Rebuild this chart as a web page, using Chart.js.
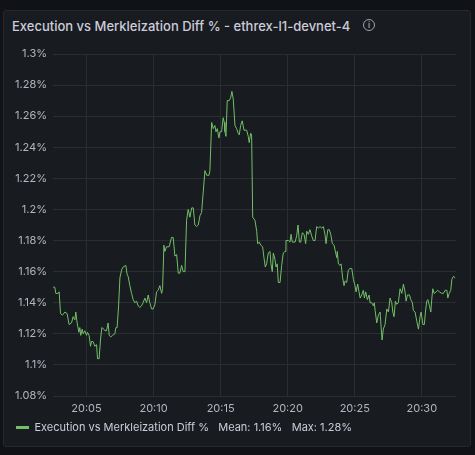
<!DOCTYPE html>
<html>
<head>
<meta charset="utf-8">
<script src="https://cdn.jsdelivr.net/npm/chart.js@4.4.1/dist/chart.umd.min.js"></script>
<style>
  html, body { margin: 0; padding: 0; background: #111217; width: 475px; height: 455px; overflow: hidden; font-family: Inter, sans-serif; }
  #panel { position: absolute; left: 3px; top: 10px; width: 466px; height: 435px; background: #181b1f; border: 1px solid #25282d; border-radius: 3px; }
  #title { position: absolute; left: 8px; top: 7px; font-size: 13px; font-weight: 500; color: #ccccdc; white-space: nowrap; }
  #info { position: absolute; left: 359px; top: 8px; width: 10px; height: 10px; border: 1.3px solid #9fa1a8; border-radius: 50%;
          color: #9fa1a8; font-size: 8px; font-weight: 600; line-height: 10px; text-align: center; }
  #wrap { position: absolute; left: 0; top: 26px; width: 466px; height: 409px; }
</style>
</head>
<body>
<div id="panel">
  <div id="title">Execution vs Merkleization Diff % - ethrex-l1-devnet-4</div>
  <div id="info">i</div>
  <div id="wrap"><canvas id="chart"></canvas></div>
</div>
<script>
// minutes after 20:00
const times = [
  2.51, 2.63, 2.71, 2.88, 2.96, 3.06, 3.21, 3.38, 3.55, 3.70, 3.88, 4.00, 4.13, 4.20, 4.30, 4.43, 4.50, 4.57, 4.67, 4.75,
  4.87, 5.00, 5.07, 5.19, 5.30, 5.37, 5.49, 5.62, 5.75, 5.82, 5.94, 6.04, 6.14, 6.29, 6.37, 6.49, 6.61, 6.69, 6.81, 6.94,
  7.11, 7.19, 7.28, 7.39, 7.49, 7.61, 7.73, 7.93, 8.03, 8.10, 8.23, 8.36, 8.48, 8.60, 8.73, 8.85, 8.98, 9.10, 9.22, 9.35,
  9.48, 9.60, 9.72, 9.85, 9.97, 10.10, 10.22, 10.34, 10.47, 10.60, 10.67, 10.77, 10.84, 10.97, 11.16, 11.34, 11.46, 11.59, 11.72, 11.84,
  11.96, 12.09, 12.21, 12.34, 12.46, 12.58, 12.71, 12.84, 12.96, 13.08, 13.21, 13.33, 13.46, 13.58, 13.83, 13.96, 14.13, 14.20, 14.33, 14.45,
  14.57, 14.65, 14.75, 14.87, 14.95, 15.07, 15.19, 15.27, 15.32, 15.40, 15.49, 15.64, 15.75, 15.84, 15.94, 16.07, 16.19, 16.31, 16.39, 16.49,
  16.61, 16.74, 16.94, 17.06, 17.13, 17.24, 17.31, 17.39, 17.56, 17.69, 17.76, 17.88, 17.99, 18.13, 18.23, 18.33, 18.43, 18.55, 18.68, 18.75,
  18.85, 18.93, 19.05, 19.13, 19.22, 19.30, 19.43, 19.55, 19.67, 19.80, 19.87, 20.05, 20.17, 20.25, 20.34, 20.55, 20.67, 20.77, 20.87, 20.97,
  21.09, 21.22, 21.34, 21.42, 21.54, 21.66, 21.79, 21.91, 22.04, 22.16, 22.28, 22.41, 22.54, 22.66, 22.78, 22.86, 22.99, 23.10, 23.21, 23.33,
  23.46, 23.53, 23.66, 23.70, 23.78, 23.90, 23.98, 24.10, 24.20, 24.28, 24.40, 24.52, 24.65, 24.78, 24.90, 25.02, 25.10, 25.22, 25.32, 25.40,
  25.52, 25.64, 25.72, 25.82, 25.94, 26.07, 26.14, 26.27, 26.39, 26.46, 26.52, 26.64, 26.76, 26.89, 26.96, 27.04, 27.13, 27.26, 27.39, 27.51,
  27.63, 27.76, 27.84, 27.93, 28.03, 28.13, 28.25, 28.38, 28.51, 28.63, 28.75, 28.83, 28.93, 29.08, 29.18, 29.30, 29.37, 29.50, 29.63, 29.75,
  29.87, 29.95, 30.08, 30.19, 30.27, 30.37, 30.45, 30.57, 30.67, 30.75, 30.82, 30.92, 31.07, 31.19, 31.31, 31.49, 31.61, 31.74, 31.87, 31.94,
  32.04, 32.16, 32.24, 32.36, 32.49
];

const diffPct = [
  1.150, 1.150, 1.146, 1.146, 1.147, 1.133, 1.132, 1.134, 1.133, 1.126, 1.127, 1.131, 1.129, 1.134, 1.127, 1.121, 1.124, 1.119, 1.123, 1.120,
  1.122, 1.119, 1.121, 1.119, 1.112, 1.115, 1.115, 1.112, 1.113, 1.104, 1.104, 1.116, 1.124, 1.123, 1.122, 1.122, 1.127, 1.119, 1.118, 1.119,
  1.120, 1.124, 1.124, 1.138, 1.156, 1.161, 1.163, 1.164, 1.158, 1.157, 1.151, 1.146, 1.142, 1.140, 1.141, 1.138, 1.137, 1.138, 1.140, 1.143,
  1.140, 1.145, 1.140, 1.136, 1.136, 1.139, 1.147, 1.148, 1.151, 1.146, 1.149, 1.177, 1.173, 1.176, 1.176, 1.182, 1.182, 1.170, 1.171, 1.159,
  1.159, 1.164, 1.160, 1.160, 1.193, 1.200, 1.195, 1.201, 1.201, 1.190, 1.189, 1.190, 1.196, 1.198, 1.225, 1.222, 1.222, 1.225, 1.256, 1.252,
  1.254, 1.250, 1.252, 1.246, 1.250, 1.250, 1.259, 1.256, 1.250, 1.247, 1.270, 1.270, 1.272, 1.276, 1.271, 1.254, 1.252, 1.249, 1.248, 1.254,
  1.257, 1.251, 1.251, 1.247, 1.243, 1.249, 1.248, 1.195, 1.193, 1.186, 1.178, 1.179, 1.177, 1.176, 1.169, 1.163, 1.165, 1.172, 1.173, 1.165,
  1.160, 1.172, 1.168, 1.163, 1.165, 1.153, 1.153, 1.164, 1.172, 1.173, 1.180, 1.180, 1.179, 1.184, 1.179, 1.179, 1.183, 1.190, 1.179, 1.179,
  1.185, 1.184, 1.178, 1.186, 1.184, 1.187, 1.183, 1.180, 1.180, 1.189, 1.188, 1.189, 1.188, 1.189, 1.184, 1.178, 1.187, 1.187, 1.184, 1.178,
  1.177, 1.174, 1.169, 1.173, 1.165, 1.164, 1.165, 1.156, 1.151, 1.154, 1.153, 1.161, 1.162, 1.162, 1.155, 1.151, 1.147, 1.152, 1.147, 1.143,
  1.145, 1.148, 1.143, 1.147, 1.142, 1.145, 1.140, 1.140, 1.138, 1.140, 1.135, 1.127, 1.132, 1.134, 1.125, 1.116, 1.123, 1.126, 1.136, 1.134,
  1.143, 1.140, 1.134, 1.131, 1.141, 1.139, 1.140, 1.149, 1.146, 1.152, 1.147, 1.141, 1.145, 1.145, 1.142, 1.140, 1.135, 1.134, 1.128, 1.123,
  1.131, 1.134, 1.126, 1.126, 1.134, 1.141, 1.142, 1.138, 1.134, 1.143, 1.149, 1.146, 1.147, 1.148, 1.147, 1.146, 1.146, 1.148, 1.148, 1.143,
  1.146, 1.148, 1.155, 1.157, 1.156
];

const xTicks = [5, 10, 15, 20, 25, 30];
const yTicks = [1.08, 1.1, 1.12, 1.14, 1.16, 1.18, 1.2, 1.22, 1.24, 1.26, 1.28, 1.3];
const seriesName = 'Execution vs Merkleization Diff %';

const mean = diffPct.reduce((a, b) => a + b, 0) / diffPct.length;
const max = Math.max(...diffPct);
const fmtPct = v => parseFloat(v.toFixed(2)) + '%';

const tickColor = '#b4b6bd';
const gridColor = '#2a2d32';
const lineColor = '#73bf69';

new Chart(document.getElementById('chart'), {
  type: 'line',
  data: {
    datasets: [{
      label: seriesName,
      data: times.map((t, i) => ({ x: t, y: diffPct[i] })),
      borderColor: lineColor,
      backgroundColor: lineColor,
      borderWidth: 1,
      pointRadius: 0,
      tension: 0
    }]
  },
  options: {
    responsive: true,
    maintainAspectRatio: false,
    animation: false,
    layout: { padding: { left: 2, right: 14, top: 17, bottom: 3 } },
    scales: {
      x: {
        type: 'linear',
        min: 2.5,
        max: 32.55,
        afterBuildTicks: s => { s.ticks = xTicks.map(v => ({ value: v })); },
        afterFit: s => { s.height = 16; },
        grid: { color: gridColor, drawTicks: false },
        border: { display: false },
        ticks: {
          color: tickColor,
          padding: 6,
          maxRotation: 0,
          font: { family: 'Inter', size: 11 },
          callback: v => '20:' + String(v).padStart(2, '0')
        }
      },
      y: {
        min: 1.08,
        max: 1.3,
        afterBuildTicks: s => { s.ticks = yTicks.map(v => ({ value: v })); },
        afterFit: s => { s.width = 47; },
        grid: { color: gridColor, drawTicks: false },
        border: { display: false },
        ticks: {
          color: tickColor,
          padding: 6,
          font: { family: 'Inter', size: 11 },
          callback: v => fmtPct(v)
        }
      }
    },
    plugins: {
      tooltip: { enabled: false },
      legend: {
        position: 'bottom',
        align: 'start',
        labels: {
          color: '#ccccdc',
          boxWidth: 13,
          boxHeight: 3,
          useBorderRadius: true,
          borderRadius: 1.5,
          padding: 10,
          font: { family: 'Inter', size: 11 },
          generateLabels: chart => chart.data.datasets.map((ds, i) => ({
            text: ds.label + '   Mean: ' + fmtPct(mean) + '   Max: ' + fmtPct(max),
            fillStyle: ds.borderColor,
            strokeStyle: ds.borderColor,
            lineWidth: 0,
            fontColor: '#ccccdc',
            datasetIndex: i
          }))
        }
      }
    }
  }
});
</script>
</body>
</html>
